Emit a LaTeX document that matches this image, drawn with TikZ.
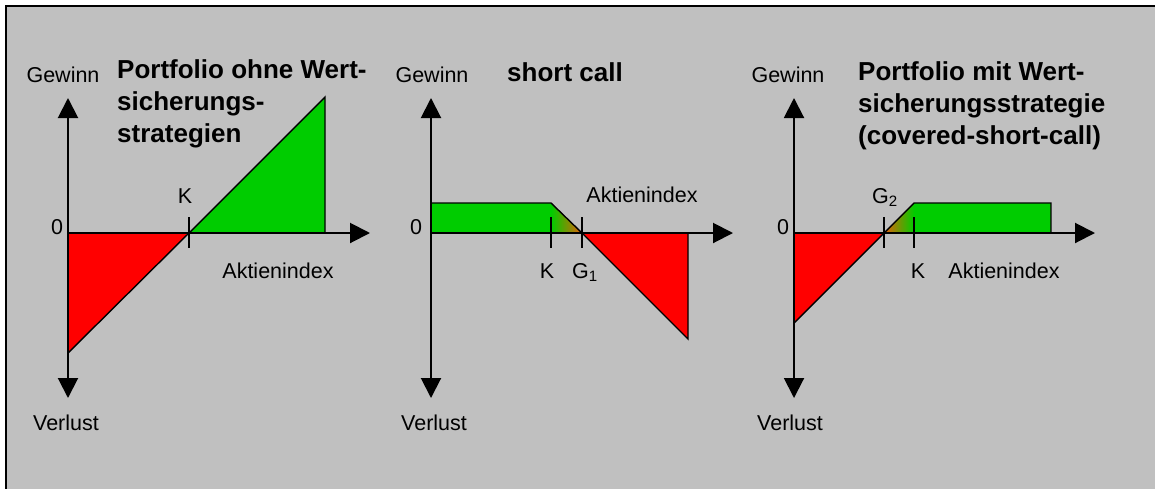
\documentclass[tikz,border=0pt]{standalone}
\usepackage{fontspec}
\setmainfont{Liberation Sans}
\usetikzlibrary{arrows.meta}
\definecolor{bg}{RGB}{192,192,192}
\definecolor{gr}{RGB}{0,204,0}
\definecolor{rd}{RGB}{255,0,0}
\definecolor{orng}{RGB}{228,96,8}
\tikzset{
  tip/.tip={Triangle[length=20pt,width=20pt]},
  haxis/.style={line width=2pt,-tip},
  vaxis/.style={line width=2pt,tip-tip},
  tickmark/.style={line width=2pt},
  outline/.style={draw=black,line width=1.4pt,line join=miter},
  lbl/.style={font=\fontsize{21.5}{25}\selectfont,inner sep=0pt,anchor=base},
  ttl/.style={font=\bfseries\fontsize{26}{32}\selectfont,align=left,inner sep=0pt,anchor=base west},
}
\begin{document}
\begin{tikzpicture}[x=1pt,y=-1pt]
\fill[white] (0,0) rectangle (1155,488);
\useasboundingbox (0,0) rectangle (1155,488);
\clip (0,0) rectangle (1155,488);
\draw[fill=bg,line width=2pt] (6,6) rectangle (1170,500);

% ---------- panel 1 ----------
\coordinate (o1) at (68,233);
\coordinate (t1) at (68,98);
\coordinate (b1) at (68,398);
\coordinate (r1) at (370,233);
\coordinate (k1) at (189,233);
\fill[rd] (o1) -- (k1) -- (68,353) -- cycle;
\draw[outline] (k1) -- (68,353);
\fill[gr] (k1) -- (325,97) -- (325,233) -- cycle;
\draw[outline] (k1) -- (325,97) -- (325,233);
\draw[vaxis] (b1) -- (t1);
\draw[haxis] (o1) -- (r1);
\draw[tickmark] (189,217) -- (189,248);
\node[lbl] (gew1) at (63,82) {Gewinn};
\node[ttl] (title1) at (117,142) {Portfolio ohne Wert-\\sicherungs-\\strategien};
\node[lbl] (null1) at (57,234) {0};
\node[lbl] (klab1) at (185,203) {K};
\node[lbl] (akt1) at (278,278) {Aktienindex};
\node[lbl] (ver1) at (66,430) {Verlust};

% ---------- panel 2 ----------
\coordinate (o2) at (431,233);
\coordinate (t2) at (431,98);
\coordinate (b2) at (431,398);
\coordinate (r2) at (733,233);
\coordinate (k2) at (551,203);
\coordinate (g1) at (582,233);
\fill[gr] (o2) rectangle (k2);
\shade[left color=gr,right color=orng] (551,203) -- (g1) -- (551,233) -- cycle;
\fill[rd] (g1) -- (688,233) -- (688,339) -- cycle;
\draw[outline] (o2) -- (431,203) -- (k2) -- (g1) -- (688,339) -- (688,233);
\draw[vaxis] (b2) -- (t2);
\draw[haxis] (o2) -- (r2);
\draw[tickmark] (551,217) -- (551,248);
\draw[tickmark] (582,217) -- (582,248);
\node[lbl] (gew2) at (432,82) {Gewinn};
\node[ttl] (title2) at (507,81) {short call};
\node[lbl] (null2) at (416,234) {0};
\node[lbl] (akt2) at (642,202) {Aktienindex};
\node[lbl] (klab2) at (547,278) {K};
\node[lbl] (glab1) at (585,278) {G\textsubscript{1}};
\node[lbl] (ver2) at (434,430) {Verlust};

% ---------- panel 3 ----------
\coordinate (o3) at (794,233);
\coordinate (t3) at (794,98);
\coordinate (b3) at (794,398);
\coordinate (r3) at (1095,233);
\coordinate (g2) at (884,233);
\coordinate (k3) at (914,203);
\fill[rd] (o3) -- (g2) -- (794,323) -- cycle;
\shade[left color=orng,right color=gr] (g2) -- (k3) -- (914,233) -- cycle;
\fill[gr] (k3) rectangle (1051,233);
\draw[outline] (794,323) -- (g2) -- (k3) -- (1051,203) -- (1051,233);
\draw[vaxis] (b3) -- (t3);
\draw[haxis] (o3) -- (r3);
\draw[tickmark] (884,217) -- (884,248);
\draw[tickmark] (914,217) -- (914,248);
\node[lbl] (gew3) at (788,82) {Gewinn};
\node[ttl] (title3) at (858,144) {Portfolio mit Wert-\\sicherungsstrategie\\(covered-short-call)};
\node[lbl] (null3) at (783,234) {0};
\node[lbl] (glab2) at (885,203) {G\textsubscript{2}};
\node[lbl] (klab3) at (918,278) {K};
\node[lbl] (akt3) at (1004,278) {Aktienindex};
\node[lbl] (ver3) at (790,430) {Verlust};
\end{tikzpicture}
\end{document}
